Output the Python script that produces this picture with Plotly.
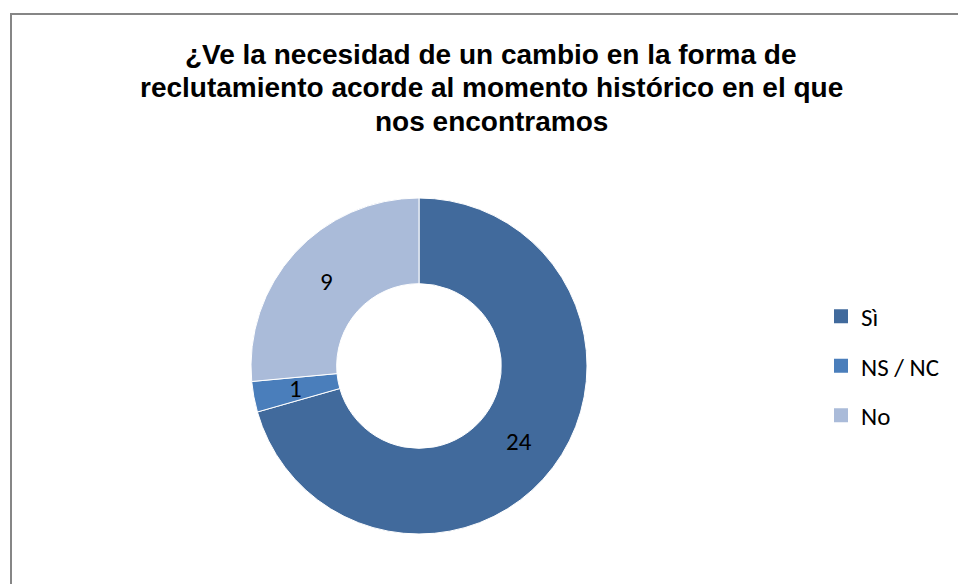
import math
import plotly.graph_objects as go

categories = ["Sì", "NS / NC", "No"]
values = [24, 1, 9]
colors = ["#416A9C", "#4A7EBB", "#AABBD9"]
title_lines = ["¿Ve la necesidad de un cambio en la forma de",
               "reclutamiento acorde al momento histórico en el que",
               "nos encontramos"]

W, H = 958, 584
cx, cy, R = 419, 366, 168
hole = 0.49
label_font = dict(family="Carlito, Calibri, sans-serif", size=25, color="black")

fig = go.Figure()
fig.add_trace(go.Pie(
    labels=categories, values=values, hole=hole, sort=False, direction="clockwise",
    rotation=0, marker=dict(colors=colors, line=dict(color="white", width=1)),
    textinfo="none",
    domain=dict(x=[(cx - R) / W, (cx + R) / W], y=[(H - cy - R) / H, (H - cy + R) / H]),
    showlegend=False, hoverinfo="label+value",
))

# value labels placed at the middle of each ring segment
total = sum(values)
start = 0.0
rmid = R * (1 + hole) / 2
for v in values:
    mid = (start + v / 2) / total * 2 * math.pi
    px = cx + rmid * math.sin(mid)
    py = cy - rmid * math.cos(mid)
    fig.add_annotation(x=px / W, y=1 - py / H, xref="paper", yref="paper", text=str(v),
                       showarrow=False, xanchor="center", yanchor="middle", font=label_font)
    start += v

for c, col in zip(categories, colors):
    fig.add_trace(go.Scatter(
        x=[None], y=[None], mode="markers", name=c, legendgroup=c,
        marker=dict(symbol="square", size=14, color=col), showlegend=True,
    ))

for i, line in enumerate(title_lines):
    fig.add_annotation(
        x=491 / W, y=1 - (54 + 33.5 * i) / H, xref="paper", yref="paper",
        xanchor="center", yanchor="middle",
        text="<b>" + line + "</b>", showarrow=False, align="center",
        font=dict(family="Liberation Sans", size=28, color="black"),
    )
fig.add_shape(type="rect", xref="paper", yref="paper", x0=11 / W, y0=-0.05, x1=1.05, y1=1 - 14 / H,
              line=dict(color="#868686", width=2), fillcolor="rgba(0,0,0,0)")

fig.update_layout(
    width=W, height=H, margin=dict(l=0, r=0, t=0, b=0),
    paper_bgcolor="white", plot_bgcolor="white",
    xaxis=dict(visible=False), yaxis=dict(visible=False),
    legend=dict(x=821 / W, y=1 - 366 / H, xanchor="left", yanchor="middle",
                tracegroupgap=14, font=dict(family="Carlito, Calibri, sans-serif", size=25, color="black"),
                bgcolor="rgba(0,0,0,0)"),
)
fig.write_html("out.html")
